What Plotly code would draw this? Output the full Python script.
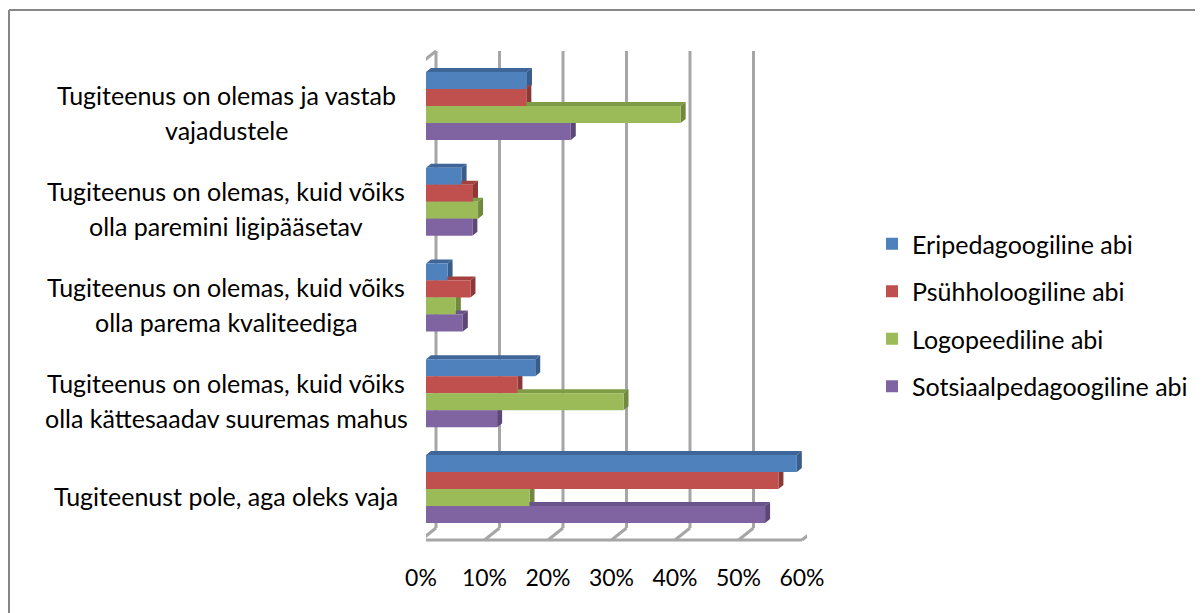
import plotly.graph_objects as go

categories = [
    "Tugiteenus on olemas ja vastab<br>vajadustele",
    "Tugiteenus on olemas, kuid võiks<br>olla paremini ligipääsetav",
    "Tugiteenus on olemas, kuid võiks<br>olla parema kvaliteediga",
    "Tugiteenus on olemas, kuid võiks<br>olla kättesaadav suuremas mahus",
    "Tugiteenust pole, aga oleks vaja",
]
series_names = [
    "Eripedagoogiline abi",
    "Psühholoogiline abi",
    "Logopeediline abi",
    "Sotsiaalpedagoogiline abi",
]
eripedagoogiline = [0.159, 0.056, 0.034, 0.172, 0.584]
psuhholoogiline = [0.158, 0.074, 0.070, 0.144, 0.555]
logopeediline = [0.401, 0.082, 0.047, 0.311, 0.163]
sotsiaalpedagoogiline = [0.228, 0.073, 0.058, 0.112, 0.534]
tick_values = [0, 0.1, 0.2, 0.3, 0.4, 0.5, 0.6]
tick_labels = ["0%", "10%", "20%", "30%", "40%", "50%", "60%"]

series_values = [eripedagoogiline, psuhholoogiline, logopeediline, sotsiaalpedagoogiline]
colors = ["#4F81BD", "#C0504D", "#9BBB59", "#8064A2"]
side_colors = ["#385D8A", "#8C3836", "#71893F", "#5C4776"]
top_colors = ["#3E6699", "#A4403D", "#7E9C45", "#6A528A"]

FONT = "Lato, 'Open Sans', sans-serif"
OFF = 8  # page body margin
W, H = 1203, 613
PL, PR, PT, PB = 426, 807, 58, 537  # plot area in page pixels (bar plane)
XMAX = 0.6
px_per_unit = (PR - PL) / XMAX
cat_px = (PB - PT) / len(categories)


def dx(px):
    return px / px_per_unit


def py2paper(py):
    return (PB - py) / (PB - PT)


def px2paper(px):
    return (px - PL) / (PR - PL)


fig = go.Figure()
for name, vals, col in zip(series_names, series_values, colors):
    fig.add_trace(go.Bar(
        y=list(range(len(categories))), x=vals, name=name, orientation="h",
        marker=dict(color=col, line=dict(width=0)), legendgroup=name,
    ))

shapes = []
grid_col = "#A6A6A6"
gw = 3
FRONT_DX, FRONT_Y = -5, 540
BACK_DX, BACK_TOP, BACK_BOT = 10, 51, 528
for t in tick_values:
    shapes.append(dict(type="line", xref="x", yref="paper",
                       x0=t + dx(BACK_DX), x1=t + dx(BACK_DX),
                       y0=py2paper(BACK_TOP), y1=py2paper(BACK_BOT),
                       line=dict(color=grid_col, width=gw), layer="below"))
    shapes.append(dict(type="line", xref="x", yref="paper",
                       x0=t + dx(BACK_DX), x1=t + dx(FRONT_DX),
                       y0=py2paper(BACK_BOT), y1=py2paper(FRONT_Y),
                       line=dict(color=grid_col, width=gw), layer="below"))
shapes.append(dict(type="line", xref="x", yref="paper",
                   x0=dx(FRONT_DX), x1=XMAX + dx(FRONT_DX),
                   y0=py2paper(FRONT_Y), y1=py2paper(FRONT_Y),
                   line=dict(color=grid_col, width=gw), layer="below"))
shapes.append(dict(type="line", xref="x", yref="paper",
                   x0=dx(FRONT_DX), x1=dx(FRONT_DX),
                   y0=py2paper(63), y1=py2paper(FRONT_Y),
                   line=dict(color=grid_col, width=gw), layer="below"))
shapes.append(dict(type="line", xref="x", yref="paper",
                   x0=dx(FRONT_DX), x1=dx(BACK_DX),
                   y0=py2paper(63), y1=py2paper(BACK_TOP),
                   line=dict(color=grid_col, width=gw), layer="below"))

gap = 0.29
group_w = 1 - gap
bar_w = group_w / len(series_names)
ddx = dx(5)
ddy = 4 / cat_px
for k, (vals, sc, tc) in enumerate(zip(series_values, side_colors, top_colors)):
    for i, v in enumerate(vals):
        ytop = i - group_w / 2 + k * bar_w
        ybot = ytop + bar_w
        top_path = (f"M 0,{ytop} L {ddx},{ytop - ddy} L {v + ddx},{ytop - ddy} "
                    f"L {v},{ytop} Z")
        side_path = (f"M {v},{ytop} L {v + ddx},{ytop - ddy} L {v + ddx},{ybot - ddy} "
                     f"L {v},{ybot} Z")
        shapes.append(dict(type="path", xref="x", yref="y", path=top_path,
                           fillcolor=tc, line=dict(width=0), layer="below"))
        shapes.append(dict(type="path", xref="x", yref="y", path=side_path,
                           fillcolor=sc, line=dict(width=0), layer="below"))

border_col = "#868686"
shapes.append(dict(type="line", xref="paper", yref="paper",
                   x0=px2paper(9), x1=px2paper(9), y0=py2paper(10), y1=py2paper(H + 5),
                   line=dict(color=border_col, width=2)))
shapes.append(dict(type="line", xref="paper", yref="paper",
                   x0=px2paper(9), x1=px2paper(W + 5), y0=py2paper(10), y1=py2paper(10),
                   line=dict(color=border_col, width=2)))

LINE_GAP = 35
annotations = []
for i, c in enumerate(categories):
    lines = c.split("<br>")
    n = len(lines)
    for j, line in enumerate(lines):
        offset = 7 + (j - (n - 1) / 2) * LINE_GAP
        annotations.append(dict(text=line, xref="paper", yref="y", x=px2paper(226), y=i,
                                xanchor="center", yanchor="middle", align="center",
                                showarrow=False, yshift=-offset,
                                font=dict(family=FONT, size=25, color="#000000")))

fig.update_layout(
    width=W - OFF, height=H - OFF,
    margin=dict(l=PL - OFF, r=W - PR, t=PT - OFF, b=H - PB, autoexpand=False),
    paper_bgcolor="white", plot_bgcolor="rgba(0,0,0,0)",
    barmode="group", bargap=gap, bargroupgap=0,
    shapes=shapes, annotations=annotations,
    font=dict(family=FONT, size=25, color="#000000"),
    legend=dict(x=px2paper(872), xanchor="left", y=py2paper(315), yanchor="middle",
                font=dict(family=FONT, size=25, color="#000000"),
                traceorder="grouped", tracegroupgap=12, itemwidth=30,
                bgcolor="rgba(0,0,0,0)"),
    showlegend=True,
    xaxis=dict(range=[0, XMAX], tickvals=tick_values, ticktext=tick_labels,
               showgrid=False, zeroline=False, showline=False, ticks="",
               ticklabelshift=-5, ticklabelstandoff=25,
               tickfont=dict(family=FONT, size=23, color="#000000"), fixedrange=True),
    yaxis=dict(range=[len(categories) - 0.5, -0.5], showticklabels=False,
               showgrid=False, zeroline=False, showline=False, ticks="",
               fixedrange=True),
)

fig.write_html("out.html")
